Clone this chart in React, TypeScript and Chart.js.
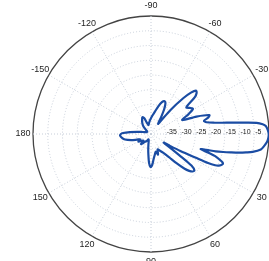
import React, { useEffect, useRef } from 'react';
import { Chart, registerables } from 'chart.js';

Chart.register(...registerables);

// Angle tick labels (degrees, clockwise from the right, 0 = right, 90 = bottom)
const ANGLE_TICKS = [-90, -60, -30, 0, 30, 60, 90, 120, 150, 180, -150, -120];

// Radial rings (dB)
const RADIAL_TICKS = [-35, -30, -25, -20, -15, -10, -5];
const RADIAL_TICK_LABELS = ['-35', '-30', '-25', '-20', '-15', '-10', '-5'];

// Pattern: angle (deg) and gain (dB)
const PATTERN_ANGLES = [
  -178, -175, -171, -166, -158, -148, -140, -134, -128, -122, -117, -113, -110, -106, -100, -94,
  -86, -80, -75, -71, -68, -65, -62, -59, -55, -53, -51, -48, -46, -44, -42, -40, -37, -34, -31,
  -28, -24, -21, -18, -16, -14, -12, -10, -9, -8, -7, -6, -5, -4, -2, 0, 2, 4, 6, 8, 10, 11, 12,
  13, 14, 15, 16, 17, 18, 19, 21, 22, 23, 25, 26, 27, 28, 30, 32, 34, 36, 37, 38, 40, 42, 44, 46,
  49, 52, 57, 62, 67, 71, 75, 79, 84, 88, 91, 94, 97, 100, 104, 109, 115, 122, 128, 132, 135, 139,
  144, 149, 153, 158, 163, 168, 173, 177, 180,
];
const PATTERN_GAIN = [
  -30.5, -32.8, -35.3, -37.2, -38.3, -38.5, -37.6, -36.2, -35.2, -34.3, -33.6, -34.2, -36.0, -36.9, -36.2, -35.3,
  -33.8, -32.3, -30.2, -28.6, -28.0, -28.4, -30.5, -33.4, -35.8, -34.5, -29.6, -23.7, -20.5, -18.8, -19.2, -20.6, -25.0, -24.2, -23.4,
  -25.5, -28.4, -23.5, -19.2, -19.8, -21.5, -20.8, -18.0, -15.6, -12.5, -8.6, -4.0, -2.0, -1.0, -0.4, -0.1, -0.2, -0.6, -1.4, -2.4, -5.0, -7.2, -9.6,
  -12.3, -14.8, -17.3, -20.5, -22.4, -19.5, -17.0, -14.5, -13.7, -13.7, -14.6, -15.8, -18.3, -23.0, -28.5, -32.4, -34.8, -31.0, -27.0, -22.6, -20.8, -21.0, -22.0, -23.6,
  -27.0, -30.0, -32.5, -33.6, -34.3, -32.6, -33.8, -33.0, -31.5, -29.4, -28.8, -30.3, -32.8, -34.6, -36.4, -37.6, -38.0, -37.2, -36.6, -35.6, -35.2, -36.6,
  -36.0, -35.0, -36.0, -34.9, -33.0, -31.0, -30.0, -29.5, -29.8,
];

const angleToIndex = (a: number) => (((a + 90) % 360) + 360) % 360;

const CATEGORY_LABELS: string[] = Array.from({ length: 360 }, (_, i) => {
  let a = i - 90;
  if (a > 180) a -= 360;
  return String(a);
});

const FONT = '"Liberation Sans", Arial, sans-serif';

const polarLabels = {
  id: 'polarLabels',
  beforeDatasetsDraw(chart: any) {
    const s = chart.scales.r;
    const ctx = chart.ctx;
    ctx.save();
    ctx.font = `7px ${FONT}`;
    ctx.fillStyle = '#1a1a1a';
    ctx.textAlign = 'left';
    ctx.textBaseline = 'middle';
    RADIAL_TICKS.forEach((v, k) => {
      const p = s.getPointPositionForValue(angleToIndex(0), v);
      ctx.fillText(RADIAL_TICK_LABELS[k], p.x + 1, p.y - 1.5);
    });
    ctx.restore();
  },
  afterDraw(chart: any) {
    const s = chart.scales.r;
    const ctx = chart.ctx;
    ctx.save();
    ctx.font = `9px ${FONT}`;
    ctx.fillStyle = '#1e1e1e';
    ctx.textAlign = 'center';
    ctx.textBaseline = 'middle';
    ANGLE_TICKS.forEach((a) => {
      const p = s.getPointPosition(angleToIndex(a), s.drawingArea + 10);
      ctx.fillText(String(a), p.x, p.y);
    });
    ctx.restore();
  },
};

export default function App() {
  const ref = useRef<HTMLCanvasElement | null>(null);

  useEffect(() => {
    if (!ref.current) return;
    const values: (number | null)[] = new Array(360).fill(null);
    PATTERN_ANGLES.forEach((a, k) => {
      values[angleToIndex(a)] = PATTERN_GAIN[k];
    });

    const chart = new Chart(ref.current, {
      type: 'radar',
      data: {
        labels: CATEGORY_LABELS,
        datasets: [
          {
            data: values,
            borderColor: '#1a4ca3',
            borderWidth: 2.2,
            fill: false,
            pointRadius: 0,
            pointHoverRadius: 0,
            spanGaps: true,
            tension: 0.3,
          } as any,
        ],
      },
      options: {
        responsive: false,
        maintainAspectRatio: false,
        devicePixelRatio: 1,
        animation: false,
        layout: { padding: 16 },
        plugins: { legend: { display: false }, tooltip: { enabled: false } },
        scales: {
          r: {
            min: -40,
            max: 0,
            ticks: { display: false, stepSize: 5 },
            pointLabels: { display: false },
            grid: {
              circular: true,
              color: (c: any) => (c.tick && c.tick.value === 0 ? '#444444' : '#c6cdd8'),
              lineWidth: (c: any) => (c.tick && c.tick.value === 0 ? 1.3 : 1),
            },
            border: {
              dash: (c: any) => (c.tick && c.tick.value === 0 ? [] : [1, 2]),
            } as any,
            angleLines: {
              color: '#c6cdd8',
              lineWidth: (c: any) => (c.index % 30 === 0 ? 1 : 0),
              borderDash: [1, 2],
            },
          } as any,
        },
      },
      plugins: [polarLabels],
    });
    return () => chart.destroy();
  }, []);

  return (
    <div style={{ position: 'absolute', left: 0, top: 0, width: 269, height: 261, overflow: 'hidden', background: '#fff' }}>
      <canvas ref={ref} width={302} height={268} style={{ display: 'block' }} />
    </div>
  );
}
